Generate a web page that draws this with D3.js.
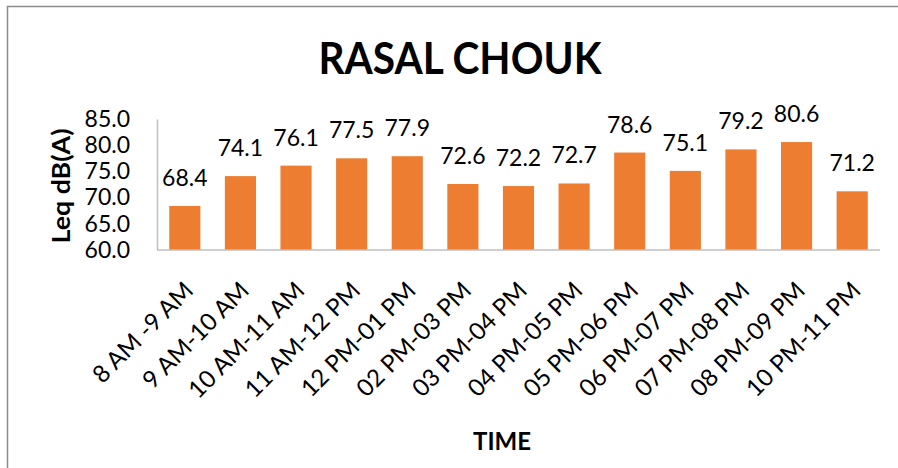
<!DOCTYPE html>
<html>
  <head>
    <meta charset="utf-8">
    <title>RASAL CHOUK</title>
    <style>
      body { margin: 0; background: #fff; }
      text { font-family: Lato, "Liberation Sans", sans-serif; fill: #000; }
    </style>
  </head>
  <body>
    <script src="https://d3js.org/d3.v7.min.js"></script>
    <script>
      // data
      var periods = ['8 AM -9 AM', '9 AM-10 AM', '10 AM-11 AM', '11 AM-12 PM', '12 PM-01 PM',
        '02 PM-03 PM', '03 PM-04 PM', '04 PM-05 PM', '05 PM-06 PM', '06 PM-07 PM',
        '07 PM-08 PM', '08 PM-09 PM', '10 PM-11 PM'];
      var leq = [68.4, 74.1, 76.1, 77.5, 77.9, 72.6, 72.2, 72.7, 78.6, 75.1, 79.2, 80.6, 71.2];
      var yTicks = [60, 65, 70, 75, 80, 85];

      var width = 898, height = 468;
      var svg = d3.select('body').append('svg').attr('width', width).attr('height', height);

      // chart frame (runs off the right and bottom edge)
      svg.append('rect')
        .attr('x', 7.5).attr('y', 6.5)
        .attr('width', 900).attr('height', 480)
        .attr('fill', 'none').attr('stroke', '#8c8c8c').attr('stroke-width', 1.5);

      var plotL = 157, plotR = 880, plotT = 119, plotB = 250;

      var x = d3.scaleBand().domain(periods).range([plotL, plotR]).paddingInner(0.44).paddingOuter(0.22);
      var y = d3.scaleLinear().domain([60, 85]).range([plotB, plotT]);

      // bars
      svg.selectAll('rect.bar')
        .data(leq)
        .enter().append('rect')
        .attr('class', 'bar')
        .attr('x', function(d, i){ return x(periods[i]); })
        .attr('y', function(d){ return y(d); })
        .attr('width', x.bandwidth())
        .attr('height', function(d){ return y(60) - y(d); })
        .attr('fill', '#ed7d31');

      // value labels
      svg.selectAll('text.val')
        .data(leq)
        .enter().append('text')
        .attr('class', 'val')
        .attr('x', function(d, i){ return x(periods[i]) + x.bandwidth() / 2; })
        .attr('y', function(d){ return y(d) - 20; })
        .attr('text-anchor', 'middle')
        .style('font-size', '23px')
        .text(function(d){ return d.toFixed(1); });

      // y axis
      var yAxis = svg.append('g')
        .attr('transform', 'translate(' + plotL + ',0)')
        .call(d3.axisLeft(y).tickValues(yTicks).tickSize(0).tickPadding(27).tickFormat(d3.format('.1f')));
      yAxis.select('.domain').attr('stroke', '#bfbfbf').attr('stroke-width', 1.5);
      yAxis.selectAll('text').style('font-size', '23px').attr('fill', '#000');

      // x axis
      var xAxis = svg.append('g')
        .attr('transform', 'translate(0,' + plotB + ')')
        .call(d3.axisBottom(x).tickSize(0).tickSizeOuter(0));
      xAxis.select('.domain').attr('d', 'M' + plotL + ',0H' + plotR).attr('stroke', '#bfbfbf').attr('stroke-width', 1.5);
      xAxis.selectAll('text')
        .style('font-size', '24px')
        .attr('fill', '#000')
        .attr('text-anchor', 'end')
        .attr('dy', null)
        .attr('y', 0)
        .attr('transform', 'translate(10,42) rotate(-45)');

      // titles
      svg.append('text')
        .attr('x', 460).attr('y', 74)
        .attr('text-anchor', 'middle')
        .style('font-size', '44px').style('font-weight', 'bold')
        .attr('textLength', 283).attr('lengthAdjust', 'spacingAndGlyphs')
        .text('RASAL CHOUK');

      svg.append('text')
        .attr('transform', 'translate(70,186) rotate(-90)')
        .attr('text-anchor', 'middle')
        .style('font-size', '25px').style('font-weight', 'bold')
        .attr('textLength', 115).attr('lengthAdjust', 'spacingAndGlyphs')
        .text('Leq dB(A)');

      svg.append('text')
        .attr('x', 502).attr('y', 450)
        .attr('text-anchor', 'middle')
        .style('font-size', '24px').style('font-weight', 'bold')
        .text('TIME');
    </script>
  </body>
</html>
